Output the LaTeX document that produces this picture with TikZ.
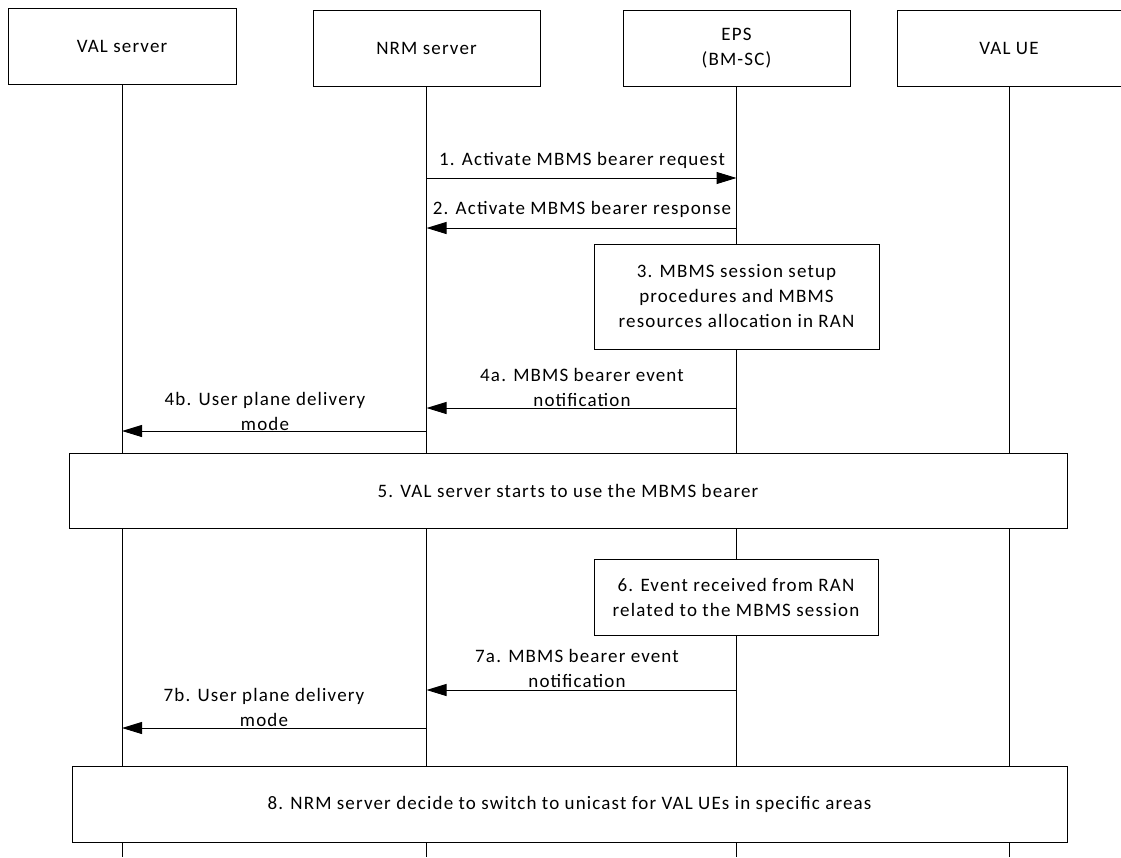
\documentclass[tikz,border=0pt]{standalone}
\usepackage{fontspec}
\setmainfont[LetterSpace=6]{Carlito}
\usetikzlibrary{arrows.meta}
\begin{document}
\begin{tikzpicture}[x=1pt,y=-1pt,line width=1pt,
  every node/.style={font=\fontsize{19}{25}\selectfont},
  actor/.style={draw,fill=white,inner sep=0pt,align=center,minimum height=76pt},
  stepbox/.style={draw,fill=white,inner sep=0pt,align=center},
  msg/.style={-{Triangle[length=20pt,width=12pt]}},
  lbl/.style={align=center,inner sep=0pt}]
\useasboundingbox (0,0) rectangle (1121,857);
\coordinate (bot) at (0,857);
% actors
\node[actor,minimum width=228pt] (val) at (122,46) {VAL server};
\node[actor,minimum width=227pt] (nrm) at (426.5,48) {NRM server};
\node[actor,minimum width=227pt] (eps) at (736.5,48) {EPS\\(BM-SC)};
\node[actor,minimum width=224pt] (ue) at (1009,48) {VAL UE};
% lifelines
\draw (val.south) -- (val.south |- bot);
\draw (nrm.south) -- (nrm.south |- bot);
\draw (eps.south) -- (eps.south |- bot);
\draw (ue.south) -- (ue.south |- bot);
% 1, 2
\draw[msg] (nrm |- 0,178) -- (eps |- 0,178);
\node[lbl] (l1) at (582,160) {1. Activate MBMS bearer request};
\draw[msg] (eps |- 0,228) -- (nrm |- 0,228);
\node[lbl] (l2) at (582,209) {2. Activate MBMS bearer response};
% 3
\node[stepbox,minimum width=285pt,minimum height=105pt] (s3) at (736.5,296.5)
  {3. MBMS session setup\\procedures and MBMS\\resources allocation in RAN};
% 4a, 4b
\draw[msg] (eps |- 0,408) -- (nrm |- 0,408);
\node[lbl] (l4a) at (582,387.5) {4a. MBMS bearer event\\notification};
\draw[msg] (nrm |- 0,431) -- (val |- 0,431);
\node[lbl] (l4b) at (265,411) {4b. User plane delivery\\mode};
% 5
\node[stepbox,minimum width=998pt,minimum height=75pt] (s5) at (568,490.5)
  {5. VAL server starts to use the MBMS bearer};
% 6
\node[stepbox,minimum width=284pt,minimum height=76pt] (s6) at (736,597)
  {6. Event received from RAN\\related to the MBMS session};
% 7a, 7b
\draw[msg] (eps |- 0,690) -- (nrm |- 0,690);
\node[lbl] (l7a) at (577,668.5) {7a. MBMS bearer event\\notification};
\draw[msg] (nrm |- 0,728) -- (val |- 0,728);
\node[lbl] (l7b) at (264,707.5) {7b. User plane delivery\\mode};
% 8
\node[stepbox,minimum width=995pt,minimum height=76pt] (s8) at (569.5,804)
  {8. NRM server decide to switch to unicast for VAL UEs in specific areas};
\end{tikzpicture}
\end{document}
